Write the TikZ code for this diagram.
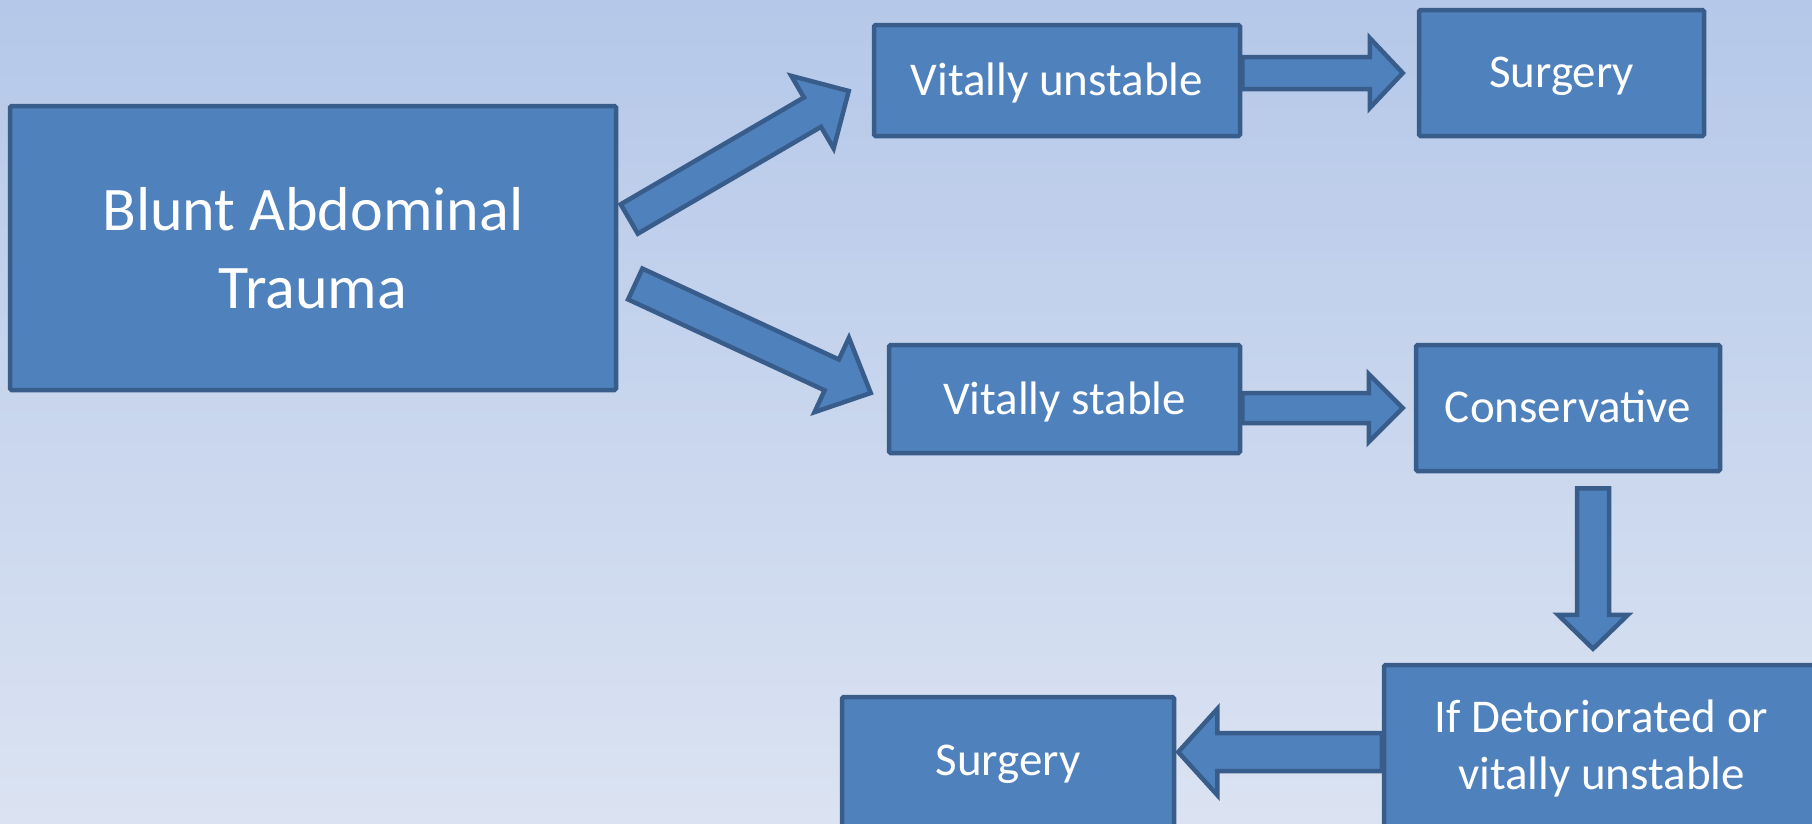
\documentclass[tikz,border=0pt]{standalone}
\usepackage{fontspec}
\setmainfont{Carlito}
\usetikzlibrary{calc}
\definecolor{boxfill}{RGB}{79,129,189}
\definecolor{boxline}{RGB}{56,93,138}
\definecolor{bgtop}{RGB}{181,200,233}
\definecolor{bgbot}{RGB}{219,227,242}
\tikzset{
  box/.style={draw=boxline,fill=boxfill,line width=4.5pt,rounded corners=1.5pt,
    inner sep=0pt,text=white,align=center,text height=38pt,text depth=9pt,
    font=\fontsize{47pt}{57pt}\selectfont},
  blockarrow/.style={draw=boxline,fill=boxfill,line width=4.5pt,line join=miter},
}
% fat arrow: tail, tip, half shaft, half head, head length
\newcommand{\fatarrow}[5]{%
  \coordinate (hb) at ($(#2)!#5!(#1)$);
  \draw[blockarrow] ($(#1)!#3!90:(#2)$) -- ($(hb)!#3!90:(#2)$) -- ($(hb)!#4!90:(#2)$)
    -- (#2) -- ($(hb)!#4!-90:(#2)$) -- ($(hb)!#3!-90:(#2)$) -- ($(#1)!#3!-90:(#2)$) -- cycle;}

\begin{document}
\begin{tikzpicture}[x=1pt,y=-1pt]
\useasboundingbox (0,0) rectangle (1812,823);
\clip (0,0) rectangle (1812,823);
\shade[top color=bgtop,bottom color=bgbot] (0,0) rectangle (1812,823);

% boxes
\node[box,minimum width=606pt,minimum height=284pt,text height=,text depth=,
  font=\fontsize{62pt}{78pt}\selectfont] (blunt) at (313,248) {Blunt Abdominal\\Trauma};
\node[box,minimum width=366pt,minimum height=111pt] (unstable) at (1057,80.5) {Vitally unstable};
\node[box,minimum width=285pt,minimum height=126pt] (surg1) at (1561.5,73) {Surgery};
\node[box,minimum width=351pt,minimum height=108pt,text height=40pt,text depth=10pt]
  (stable) at (1064.5,399) {Vitally stable};
\node[box,minimum width=304pt,minimum height=126pt] (cons) at (1568,408) {Conservative};
\node[box,minimum width=435pt,minimum height=167pt,text height=,text depth=]
  (det) at (1601.5,748.5) {If Detoriorated or\\vitally unstable};
\node[box,minimum width=332pt,minimum height=134pt,text height=32pt,text depth=10pt]
  (surg2) at (1008,764) {Surgery};

% arrows
\coordinate (t1) at ($(blunt.east)+(11,-29)$);
\coordinate (p1) at ($(unstable.west)+(-23,10.5)$);
\fatarrow{t1}{p1}{17pt}{42pt}{42pt}
\coordinate (t2) at ($(blunt.east)+(17,36)$);
\coordinate (p2) at ($(stable.west)+(-16,-6)$);
\fatarrow{t2}{p2}{17pt}{41pt}{43pt}
\coordinate (t3) at (unstable.east |- surg1.west);
\coordinate (p3) at ($(surg1.west)+(-14,0)$);
\fatarrow{t3}{p3}{16pt}{35pt}{33pt}
\coordinate (t4) at (stable.east |- cons.west);
\coordinate (p4) at ($(cons.west)+(-11,0)$);
\fatarrow{t4}{p4}{15pt}{34pt}{34pt}
\coordinate (t5) at ($(cons.south)+(25,15)$);
\coordinate (p5) at ($(t5 |- det.north)+(0,-14)$);
\fatarrow{t5}{p5}{16pt}{35pt}{34pt}
\coordinate (t6) at ($(det.west)+(0,3.5)$);
\coordinate (p6) at ($(surg2.east |- t6)+(2,0)$);
\fatarrow{t6}{p6}{19pt}{43pt}{39pt}
\end{tikzpicture}
\end{document}
